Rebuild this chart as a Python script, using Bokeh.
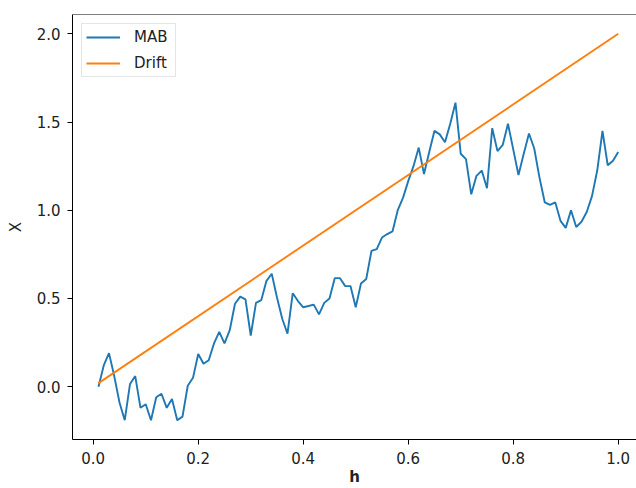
from bokeh.plotting import figure
from bokeh.models import (Range1d, FixedTicker, PrintfTickFormatter, Span,
                          Legend, LegendItem, ColumnDataSource)
from bokeh.embed import file_html
from bokeh.resources import INLINE

# step sizes h
h = [
    0.01, 0.02, 0.03, 0.04, 0.05, 0.06, 0.07, 0.08, 0.09, 0.10,
    0.11, 0.12, 0.13, 0.14, 0.15, 0.16, 0.17, 0.18, 0.19, 0.20,
    0.21, 0.22, 0.23, 0.24, 0.25, 0.26, 0.27, 0.28, 0.29, 0.30,
    0.31, 0.32, 0.33, 0.34, 0.35, 0.36, 0.37, 0.38, 0.39, 0.40,
    0.41, 0.42, 0.43, 0.44, 0.45, 0.46, 0.47, 0.48, 0.49, 0.50,
    0.51, 0.52, 0.53, 0.54, 0.55, 0.56, 0.57, 0.58, 0.59, 0.60,
    0.61, 0.62, 0.63, 0.64, 0.65, 0.66, 0.67, 0.68, 0.69, 0.70,
    0.71, 0.72, 0.73, 0.74, 0.75, 0.76, 0.77, 0.78, 0.79, 0.80,
    0.81, 0.82, 0.83, 0.84, 0.85, 0.86, 0.87, 0.88, 0.89, 0.90,
    0.91, 0.92, 0.93, 0.94, 0.95, 0.96, 0.97, 0.98, 0.99, 1.00,
]

# MAB path X(h)
mab = [
    0.00, 0.12, 0.19, 0.06, -0.09, -0.19, 0.015, 0.06, -0.12, -0.10,
    -0.19, -0.06, -0.04, -0.12, -0.07, -0.19, -0.17, 0.005, 0.05, 0.185,
    0.13, 0.15, 0.245, 0.31, 0.245, 0.32, 0.47, 0.51, 0.495, 0.29,
    0.475, 0.49, 0.60, 0.64, 0.505, 0.385, 0.30, 0.53, 0.485, 0.45,
    0.457, 0.465, 0.41, 0.475, 0.50, 0.615, 0.615, 0.57, 0.57, 0.45,
    0.585, 0.61, 0.77, 0.78, 0.845, 0.865, 0.88, 1.00, 1.07, 1.165,
    1.25, 1.355, 1.205, 1.33, 1.45, 1.43, 1.385, 1.49, 1.61, 1.32,
    1.29, 1.09, 1.195, 1.225, 1.125, 1.465, 1.335, 1.37, 1.49, 1.345,
    1.20, 1.32, 1.435, 1.35, 1.185, 1.045, 1.03, 1.045, 0.94, 0.90,
    1.00, 0.905, 0.935, 0.99, 1.08, 1.225, 1.45, 1.255, 1.28, 1.33,
]

# drift line end points
drift_h = [0.01, 1.00]
drift = [0.02, 2.00]

x_ticks = [0.0, 0.2, 0.4, 0.6, 0.8, 1.0]
y_ticks = [0.0, 0.5, 1.0, 1.5, 2.0]

FONT = "DejaVu Sans"
FS = "15px"

y_lo, y_hi = -0.2995, 2.1095

p = figure(width=636, height=488, output_backend="svg", toolbar_location=None,
           x_range=Range1d(-0.0395, 1.0348), y_range=Range1d(y_lo, y_hi),
           min_border_left=72, min_border_right=0, min_border_top=14,
           min_border_bottom=48)
p.grid.visible = False
p.outline_line_color = None
p.background_fill_color = "white"
p.border_fill_color = "white"

src = ColumnDataSource(dict(h=h, mab=mab))
r_mab = p.line("h", "mab", source=src, line_color="#1f77b4", line_width=1.9)
dsrc = ColumnDataSource(dict(h=drift_h, x=drift))
r_drift = p.line("h", "x", source=dsrc, line_color="#ff7f0e", line_width=1.9)

# top spine
p.add_layout(Span(location=y_hi, dimension="width", line_color="black",
                  line_width=1))

for ax, ticks in ((p.xaxis[0], x_ticks), (p.yaxis[0], y_ticks)):
    ax.ticker = FixedTicker(ticks=ticks)
    ax.formatter = PrintfTickFormatter(format="%.1f")
    ax.major_tick_out = 5
    ax.major_tick_in = 0
    ax.minor_tick_out = 0
    ax.minor_tick_in = 0
    ax.axis_line_color = "black"
    ax.major_tick_line_color = "black"
    ax.major_label_text_font = FONT
    ax.major_label_text_font_size = FS
    ax.major_label_text_color = "#222222"
    ax.axis_label_text_font = FONT
    ax.axis_label_text_font_size = FS
    ax.axis_label_text_color = "#222222"
    ax.major_label_standoff = 7

p.xaxis[0].axis_label = "h"
p.xaxis[0].axis_label_text_font_style = "bold"
p.xaxis[0].axis_label_standoff = 1
p.xaxis[0].axis_label_text_baseline = "bottom"
p.yaxis[0].axis_label = "X"
p.yaxis[0].axis_label_text_font_style = "normal"
p.yaxis[0].axis_label_standoff = 9

legend = Legend(items=[LegendItem(label="MAB", renderers=[r_mab]),
                       LegendItem(label="Drift", renderers=[r_drift])],
                location="top_left")
legend.margin = 9
legend.padding = 4
legend.glyph_width = 34
legend.glyph_height = 12
legend.label_height = 12
legend.label_width = 37
legend.label_standoff = 14
legend.spacing = 8
legend.label_text_font = FONT
legend.label_text_font_size = FS
legend.label_text_color = "#222222"
legend.border_line_color = "#cccccc"
legend.background_fill_alpha = 0.8
p.add_layout(legend)

open("out.html", "w").write(file_html(p, INLINE))
